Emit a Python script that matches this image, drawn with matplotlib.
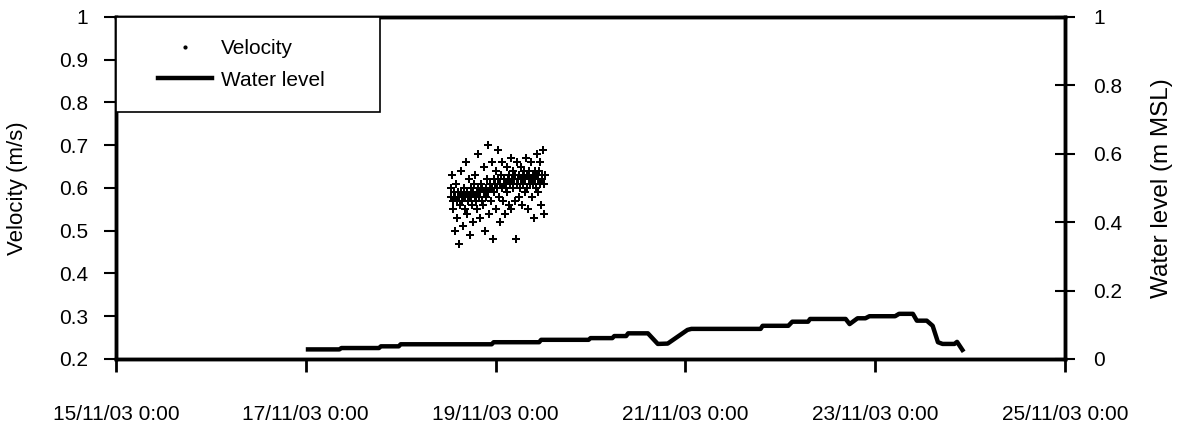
import matplotlib
matplotlib.use("Agg")
import matplotlib.pyplot as plt
from matplotlib.patches import Rectangle
from matplotlib.lines import Line2D
import pandas as pd

plt.rcParams['font.family'] = ['Liberation Sans', 'DejaVu Sans']

# ---------------- data ----------------
x_ticks = ["2003-11-15 00:00", "2003-11-17 00:00", "2003-11-19 00:00",
           "2003-11-21 00:00", "2003-11-23 00:00", "2003-11-25 00:00"]
x_tick_labels = ["15/11/03 0:00", "17/11/03 0:00", "19/11/03 0:00",
                 "21/11/03 0:00", "23/11/03 0:00", "25/11/03 0:00"]
left_ticks = [0.2, 0.3, 0.4, 0.5, 0.6, 0.7, 0.8, 0.9, 1.0]
left_tick_labels = ["0.2", "0.3", "0.4", "0.5", "0.6", "0.7", "0.8", "0.9", "1"]
right_ticks = [0.0, 0.2, 0.4, 0.6, 0.8, 1.0]
right_tick_labels = ["0", "0.2", "0.4", "0.6", "0.8", "1"]

# velocity samples (10-minute records)
velocity_start = "2003-11-18 12:40"
velocity_interval = "10min"
velocity = [
    0.60, 0.58, 0.63, 0.55, 0.57, 0.59, 0.50, 0.58, 0.61, 0.57, 0.53, 0.59,
    0.58, 0.47, 0.56, 0.59, 0.64, 0.57, 0.51, 0.58, 0.60, 0.55, 0.58, 0.66,
    0.59, 0.54, 0.57, 0.58, 0.62, 0.49, 0.58, 0.60, 0.56, 0.59, 0.52, 0.61,
    0.58, 0.63, 0.57, 0.59, 0.55, 0.60, 0.68, 0.58, 0.53, 0.59, 0.61, 0.57,
    0.60, 0.56, 0.59, 0.65, 0.50, 0.60, 0.58, 0.62, 0.70, 0.59, 0.54, 0.60,
    0.61, 0.57, 0.66, 0.60, 0.48, 0.62, 0.59, 0.61, 0.55, 0.64, 0.60, 0.69,
    0.62, 0.58, 0.61, 0.52, 0.63, 0.60, 0.66, 0.57, 0.61, 0.62, 0.54, 0.60,
    0.61, 0.65, 0.59, 0.62, 0.56, 0.63, 0.61, 0.67, 0.55, 0.62, 0.60, 0.64,
    0.62, 0.57, 0.63, 0.48, 0.61, 0.66, 0.62, 0.58, 0.63, 0.60, 0.65, 0.62,
    0.56, 0.63, 0.61, 0.64, 0.59, 0.62, 0.67, 0.60, 0.63, 0.55, 0.62, 0.64,
    0.61, 0.66, 0.62, 0.58, 0.63, 0.61, 0.53, 0.64, 0.62, 0.60, 0.68, 0.63,
    0.62, 0.59, 0.64, 0.61, 0.66, 0.56, 0.63, 0.62, 0.69, 0.61, 0.54, 0.63,
]

# water level (m MSL)
level_times = [
    "2003-11-17 00:00", "2003-11-17 08:30", "2003-11-17 09:00", "2003-11-17 18:30",
    "2003-11-17 19:00", "2003-11-17 23:30", "2003-11-18 00:00", "2003-11-18 23:00",
    "2003-11-18 23:30", "2003-11-19 11:00", "2003-11-19 11:30", "2003-11-19 23:30",
    "2003-11-20 00:00", "2003-11-20 05:30", "2003-11-20 06:00", "2003-11-20 09:00",
    "2003-11-20 09:30", "2003-11-20 14:30", "2003-11-20 17:00", "2003-11-20 19:30",
    "2003-11-21 00:30", "2003-11-21 01:30", "2003-11-21 19:00", "2003-11-21 19:30",
    "2003-11-22 02:00", "2003-11-22 03:00", "2003-11-22 07:00", "2003-11-22 07:30",
    "2003-11-22 16:30", "2003-11-22 17:30", "2003-11-22 19:30", "2003-11-22 21:30",
    "2003-11-22 22:30", "2003-11-23 05:00", "2003-11-23 06:00", "2003-11-23 09:30",
    "2003-11-23 10:30", "2003-11-23 13:00", "2003-11-23 14:30", "2003-11-23 15:50",
    "2003-11-23 17:00", "2003-11-23 20:00", "2003-11-23 20:40", "2003-11-23 22:20",
]
level_values = [
    0.028, 0.028, 0.032, 0.032,
    0.037, 0.037, 0.043, 0.043,
    0.049, 0.049, 0.056, 0.056,
    0.061, 0.061, 0.067, 0.067,
    0.075, 0.075, 0.044, 0.045,
    0.085, 0.088, 0.088, 0.097,
    0.097, 0.109, 0.109, 0.117,
    0.117, 0.102, 0.119, 0.119,
    0.125, 0.125, 0.132, 0.132,
    0.112, 0.112, 0.097, 0.049,
    0.044, 0.044, 0.050, 0.021,
]

FS = 15

# ---------------- figure ----------------
vel_times = pd.date_range(velocity_start, periods=len(velocity), freq=velocity_interval)
lvl_times = pd.to_datetime(level_times)
tick_dates = pd.to_datetime(x_ticks)

fig = plt.figure(figsize=(11.88, 4.41), dpi=100)
ax = fig.add_axes([0.0976, 0.186, 0.7990, 0.7755])
ax2 = ax.twinx()

ax.scatter(vel_times, velocity, marker='P', s=30, color='black', linewidths=0, zorder=3)
ax2.plot(lvl_times, level_values, color='black', lw=3.2, solid_joinstyle='round',
         solid_capstyle='butt', zorder=3)

ax.set_xlim(tick_dates[0], tick_dates[-1])
ax.set_ylim(0.2, 1.0)
ax2.set_ylim(0.0, 1.0)

ax.set_xticks(tick_dates)
ax.set_xticklabels(x_tick_labels, fontsize=FS)
ax.set_yticks(left_ticks)
ax.set_yticklabels(left_tick_labels, fontsize=FS)
ax2.set_yticks(right_ticks)
ax2.set_yticklabels(right_tick_labels, fontsize=FS)

ax.tick_params(axis='x', direction='out', length=9, width=2, pad=24)
ax.tick_params(axis='y', direction='out', length=9, width=1.5, pad=11)
ax2.tick_params(axis='y', direction='inout', length=14, width=1.5, pad=13)

for a in (ax, ax2):
    for s in a.spines.values():
        s.set_linewidth(2.5)

ax.set_ylabel("Velocity (m/s)", fontsize=16)
ax.yaxis.set_label_coords(-0.093, 0.5)
ax2.set_ylabel("Water level (m MSL)", fontsize=17.5, rotation=90)
ax2.yaxis.set_label_coords(1.09, 0.5)

# legend box
rect = Rectangle((0, 0.722), 0.278, 0.278, transform=ax2.transAxes,
                 facecolor='white', edgecolor='black', lw=1.2, zorder=5)
ax2.add_patch(rect)
handles = [Line2D([], [], marker='.', ls='none', color='black', markersize=4),
           Line2D([], [], color='black', lw=3.2)]
leg = ax2.legend(handles, ["Velocity", "Water level"], loc='upper left',
                 bbox_to_anchor=(0.044, 0.935), bbox_transform=ax2.transAxes,
                 frameon=False, fontsize=FS, borderpad=0, borderaxespad=0,
                 handlelength=2.6, handletextpad=0.45, labelspacing=0.6)
leg.set_zorder(6)

fig.savefig("out.png", dpi=100)
